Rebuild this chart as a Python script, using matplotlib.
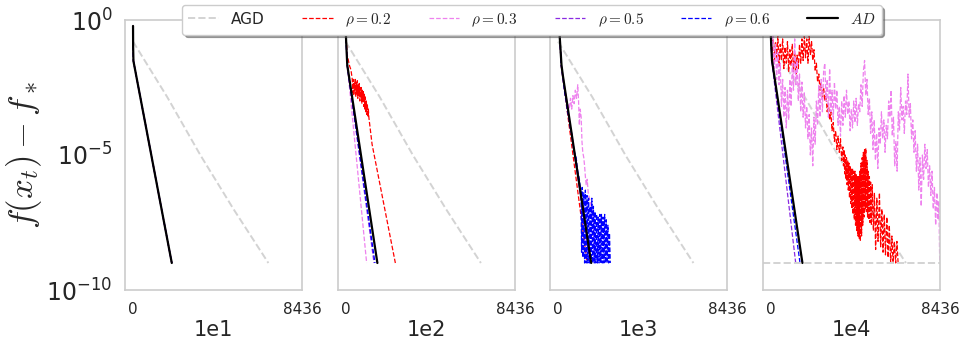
import numpy as np
import matplotlib.pyplot as plt
import seaborn as sns

sns.set_style('white')
plt.rcParams['mathtext.fontset'] = 'cm'
plt.rcParams['font.family'] = ['DejaVu Sans']

# values are log10(f(x_t) - f_*)
panels = ['1e1', '1e2', '1e3', '1e4']
x_max = 8436

agd_x = [0, 1700, 3350, 5000, 6740]
agd_L = [-0.8, -2.85, -5.0, -7.0, -9.0]
floor_L = -9.0   # dashed floor in the last panel

# ---- 1e1 : every rho run coincides with AD
ad_x_1e1 = [0, 5, 20, 1930]
ad_L_1e1 = [-0.22, -1.0, -1.52, -9.0]

# ---- 1e2
ad_x_1e2 = [0, 30, 85, 1585]
ad_L_1e2 = [-0.2, -0.8, -1.67, -9.0]
r06_x_1e2 = [0, 30, 80, 1465]
r06_L_1e2 = [-0.2, -0.8, -1.67, -9.0]
r05_x_1e2 = [0, 30, 80, 1420]
r05_L_1e2 = [-0.2, -0.8, -1.67, -9.0]
r03_x_1e2 = [0, 30, 80, 170, 1050]
r03_L_1e2 = [-0.2, -0.8, -1.6, -2.3, -9.0]
r02_x_1e2 = [0, 40, 85, 200, 270, 335, 360, 385, 410, 435, 460, 485, 510, 535, 560, 585,
             610, 635, 660, 685, 710, 735, 760, 785, 810, 835, 860, 885, 910, 935, 960,
             985, 1010, 1035, 1060, 1085, 1110, 1135, 1160, 1320, 2480]
r02_L_1e2 = [-0.2, -0.8, -1.3, -1.7, -1.85, -2.2, -2.7, -2.2, -2.8, -2.3, -2.6, -2.15,
             -2.85, -2.3, -2.7, -2.25, -2.9, -2.4, -2.8, -2.35, -3.0, -2.5, -2.9, -2.5, -3.1,
             -2.6, -3.0, -2.65, -3.2, -2.75, -3.3, -2.85, -3.4, -3.0, -3.5, -3.1, -3.6, -3.3,
             -3.6, -4.6, -9.0]

# ---- 1e3
ad_x_1e3 = [0, 80, 170, 235, 1650]
ad_L_1e3 = [-0.2, -0.6, -1.67, -2.04, -9.0]
r02_x_1e3 = [0, 80, 160, 1450]
r02_L_1e3 = [-0.2, -0.6, -1.7, -9.0]
r05_x_1e3 = [0, 80, 170, 1600]
r05_L_1e3 = [-0.2, -0.6, -1.7, -9.0]
r03_x_1e3 = [0, 80, 160, 300, 450, 560, 620, 680, 740, 800, 860, 920, 980, 1020, 1060, 1100,
             1150, 1190, 1230, 1280, 1320, 1360, 1400, 1450, 1500, 1560, 1650, 1750, 1820]
r03_L_1e3 = [-0.2, -0.6, -1.7, -2.5, -3.0, -3.3, -2.9, -3.3, -2.8, -3.1, -2.6, -2.9, -2.4,
             -3.0, -3.9, -3.3, -3.6, -4.5, -4.9, -5.1, -5.4, -5.8, -6.1, -5.9, -6.4, -6.6,
             -6.9, -7.3, -9.0]
r06_x_1e3 = [0, 80, 160, 250, 330, 400, 470, 540, 610, 680, 750, 820, 900, 980, 1060, 1140,
             1170, 1200, 1240, 1280, 1320, 1360, 1400, 1440, 1480, 1520, 1560, 1600, 1640,
             1680, 1720, 1760, 1800, 1840, 1880, 1920, 1960, 2000, 2040, 2080, 2120, 2160,
             2200, 2240, 2280, 2320, 2360, 2400, 2440, 2480, 2520, 2560, 2600]
r06_L_1e3 = [-0.2, -0.6, -1.7, -2.2, -2.7, -3.0, -3.4, -3.6, -4.0, -4.2, -4.6, -4.9, -5.1,
             -5.6, -5.9, -6.4, -8.6, -6.2, -8.8, -6.4, -9.0, -6.3, -9.0, -6.5, -9.0, -6.6,
             -9.0, -6.9, -9.0, -6.6, -9.0, -6.9, -9.0, -7.1, -9.0, -7.2, -9.0, -7.3, -9.0,
             -7.2, -9.0, -7.2, -9.0, -7.3, -9.0, -7.2, -9.0, -7.4, -9.0, -7.6, -9.0, -7.9, -9.0]

# ---- 1e4
ad_x_1e4 = [0, 30, 70, 1585]
ad_L_1e4 = [-0.3, -0.9, -1.5, -9.0]
r06_x_1e4 = [0, 30, 70, 1465]
r06_L_1e4 = [-0.3, -0.9, -1.5, -9.0]
r05_x_1e4 = [0, 30, 60, 1250]
r05_L_1e4 = [-0.3, -0.9, -1.5, -9.0]
r02_x_1e4 = [0, 60, 120, 180, 240, 300, 360, 420, 480, 540, 600, 660, 720, 780, 840, 900,
             960, 1020, 1080, 1140, 1200, 1260, 1320, 1380, 1440, 1500, 1560, 1620, 1680,
             1740, 1800, 1860, 1920, 1980, 2040, 2100, 2160, 2220, 2280, 2340, 2400, 2460,
             2520, 2580, 2640, 2700, 2760, 2820, 2880, 2940, 3000, 3060, 3120, 3180, 3240,
             3300, 3360, 3420, 3480, 3540, 3600, 3630, 3660, 3690, 3720, 3750, 3780, 3810,
             3840, 3870, 3900, 3930, 3960, 3990, 4020, 4050, 4080, 4110, 4140, 4170, 4200,
             4230, 4260, 4290, 4320, 4350, 4380, 4410, 4440, 4470, 4500, 4530, 4560, 4590,
             4620, 4650, 4680, 4710, 4740, 4770, 4800, 4830, 4860, 4890, 4920, 4950, 4980,
             5020, 5060, 5120, 5170, 5230, 5290, 5350, 5420, 5480, 5540, 5600, 5660, 5720,
             5790, 5850, 5910, 5980, 6040, 6100, 6160, 6230, 6290, 6350, 6400]
r02_L_1e4 = [-0.2, -1.3, -0.7, -1.6, -0.8, -1.4, -0.6, -1.7, -0.9, -1.5, -0.7, -1.8, -1.0,
             -1.6, -0.8, -1.9, -1.1, -1.7, -0.9, -1.9, -1.2, -2.0, -1.3, -1.8, -0.9, -1.6,
             -0.7, -1.5, -0.6, -1.4, -0.7, -1.6, -0.6, -1.3, -0.8, -1.5, -1.1, -1.9, -1.6,
             -2.3, -2.0, -2.6, -2.3, -2.9, -2.5, -3.0, -2.8, -3.4, -3.1, -3.7, -3.4, -4.1,
             -3.8, -4.5, -4.1, -4.8, -4.3, -4.9, -4.4, -5.2, -4.7, -5.4, -4.8, -5.7, -5.0,
             -5.9, -5.1, -6.1, -5.2, -6.3, -5.3, -6.6, -5.4, -6.8, -5.5, -7.0, -5.5, -7.2,
             -5.6, -7.4, -5.6, -7.6, -5.7, -7.8, -5.8, -8.0, -5.8, -8.1, -5.6, -8.2, -5.3,
             -8.0, -5.1, -7.6, -4.9, -7.3, -4.8, -7.0, -4.75, -7.1, -5.2, -7.3, -5.6, -7.4,
             -5.8, -7.5, -6.0, -7.6, -6.1, -7.8, -6.4, -8.5, -6.6, -8.2, -6.4, -8.4, -7.0,
             -8.6, -7.2, -8.7, -7.3, -8.8, -7.6, -9.0, -8.0, -9.0, -8.2, -9.0, -8.2, -9.0,
             -9.0]
r03_x_1e4 = [0, 60, 120, 180, 240, 300, 360, 420, 480, 540, 600, 660, 720, 780, 840, 900,
             960, 1020, 1080, 1140, 1200, 1260, 1320, 1380, 1440, 1500, 1560, 1620, 1680,
             1740, 1800, 1860, 1920, 1980, 2040, 2100, 2160, 2220, 2280, 2340, 2400, 2460,
             2520, 2580, 2640, 2700, 2760, 2820, 2880, 2940, 3000, 3060, 3120, 3180, 3240,
             3300, 3360, 3420, 3480, 3540, 3600, 3660, 3720, 3780, 3840, 3900, 3960, 4020,
             4080, 4140, 4200, 4260, 4320, 4380, 4440, 4500, 4560, 4620, 4680, 4740, 4800,
             4860, 4920, 4980, 5040, 5100, 5160, 5220, 5280, 5340, 5400, 5460, 5520, 5580,
             5640, 5700, 5760, 5820, 5880, 5940, 6000, 6060, 6120, 6180, 6240, 6300, 6360,
             6420, 6480, 6540, 6600, 6660, 6720, 6780, 6840, 6900, 6960, 7020, 7080, 7140,
             7200, 7260, 7320, 7380, 7440, 7500, 7560, 7620, 7680, 7740, 7800, 7860, 7920,
             7980, 8040, 8100, 8160, 8220, 8280, 8340, 8380, 8420]
r03_L_1e4 = [-0.3, -1.0, -0.6, -1.8, -0.9, -2.2, -1.2, -2.4, -1.6, -3.2, -2.2, -3.6, -2.5,
             -4.0, -2.6, -3.7, -2.2, -3.2, -1.6, -2.6, -0.7, -2.4, -1.5, -3.0, -2.0, -3.4,
             -2.3, -3.6, -2.7, -4.0, -3.2, -4.4, -3.5, -5.0, -4.0, -5.4, -3.6, -4.6, -3.0,
             -3.9, -2.4, -3.6, -2.2, -3.4, -1.9, -1.6, -3.0, -2.2, -3.6, -1.8, -3.4, -2.6,
             -3.7, -2.3, -3.3, -2.6, -3.9, -3.2, -4.3, -3.0, -3.9, -2.8, -3.6, -2.6, -3.5,
             -3.0, -4.1, -3.3, -4.0, -3.0, -3.8, -2.9, -3.9, -3.1, -3.4, -2.4, -3.2, -1.9,
             -1.5, -2.8, -2.2, -3.5, -2.9, -4.2, -3.4, -4.8, -3.7, -5.2, -4.2, -5.5, -4.0,
             -4.6, -3.4, -4.4, -3.7, -4.9, -3.9, -4.4, -3.0, -3.6, -2.6, -4.3, -3.6, -5.4,
             -4.5, -5.6, -3.4, -4.1, -2.5, -3.7, -3.2, -4.2, -3.0, -3.5, -2.0, -3.6, -3.1,
             -4.4, -3.7, -4.9, -4.1, -5.6, -4.6, -6.3, -5.1, -6.9, -5.0, -5.9, -4.6, -5.5,
             -4.8, -6.2, -5.4, -6.5, -5.6, -7.0, -6.2, -7.6, -6.4, -7.4, -6.7, -8.9]

rho_labels = [r'$\rho=0.2$', r'$\rho=0.3$', r'$\rho=0.5$', r'$\rho=0.6$']
rho_colors = ['red', 'violet', 'blueviolet', 'blue']

runs = {
    '1e1': [(ad_x_1e1, ad_L_1e1)] * 5,
    '1e2': [(r02_x_1e2, r02_L_1e2), (r03_x_1e2, r03_L_1e2), (r05_x_1e2, r05_L_1e2),
            (r06_x_1e2, r06_L_1e2), (ad_x_1e2, ad_L_1e2)],
    '1e3': [(r02_x_1e3, r02_L_1e3), (r03_x_1e3, r03_L_1e3), (r05_x_1e3, r05_L_1e3),
            (r06_x_1e3, r06_L_1e3), (ad_x_1e3, ad_L_1e3)],
    '1e4': [(r02_x_1e4, r02_L_1e4), (r03_x_1e4, r03_L_1e4), (r05_x_1e4, r05_L_1e4),
            (r06_x_1e4, r06_L_1e4), (ad_x_1e4, ad_L_1e4)],
}

fig, axes = plt.subplots(1, 4, figsize=(9.66, 3.49), dpi=100, sharey=True)
fig.subplots_adjust(left=125/966, right=940/966, bottom=1-290/349, top=1-20/349,
                    wspace=35/177)

for ax, name in zip(axes, panels):
    ax.plot(agd_x, 10**np.array(agd_L), color='lightgray', ls='--', lw=1.4, label='AGD')
    series = runs[name]
    for (x, L), lab, c in zip(series[:4], rho_labels, rho_colors):
        ax.plot(x, 10**np.array(L), color=c, ls='--', lw=0.9, label=lab)
    x, L = series[4]
    ax.plot(x, 10**np.array(L), color='black', lw=1.6, label='$AD$')
    if name == '1e4':
        ax.axhline(10**floor_L, color='lightgray', ls='--', lw=1.4)
    ax.set_yscale('log')
    ax.set_ylim(1e-10, 1)
    ax.set_yticks([1e-10, 1e-5, 1])
    ax.minorticks_off()
    ax.set_xlim(-400, x_max)
    ax.set_xticks([0, x_max])
    ax.set_xticklabels(['0', str(x_max)])
    ax.set_xlabel(name, fontsize=15, labelpad=2)
    ax.tick_params(axis='x', length=0, pad=9, labelsize=11)
    ax.tick_params(axis='y', length=0, pad=9, labelsize=17)
    for s in ax.spines.values():
        s.set_color('0.8')
        s.set_linewidth(1.2)

axes[0].set_ylabel(r'$f(x_t) - f_*$', fontsize=25, labelpad=2)

handles, labels = axes[0].get_legend_handles_labels()
fig.legend(handles, labels, loc='upper center', bbox_to_anchor=(532/966, 1-5/349),
           ncol=6, fontsize=11, fancybox=True, shadow=True, framealpha=1,
           edgecolor='0.8', borderaxespad=0, columnspacing=2.45)

fig.savefig('out.png', dpi=100)
